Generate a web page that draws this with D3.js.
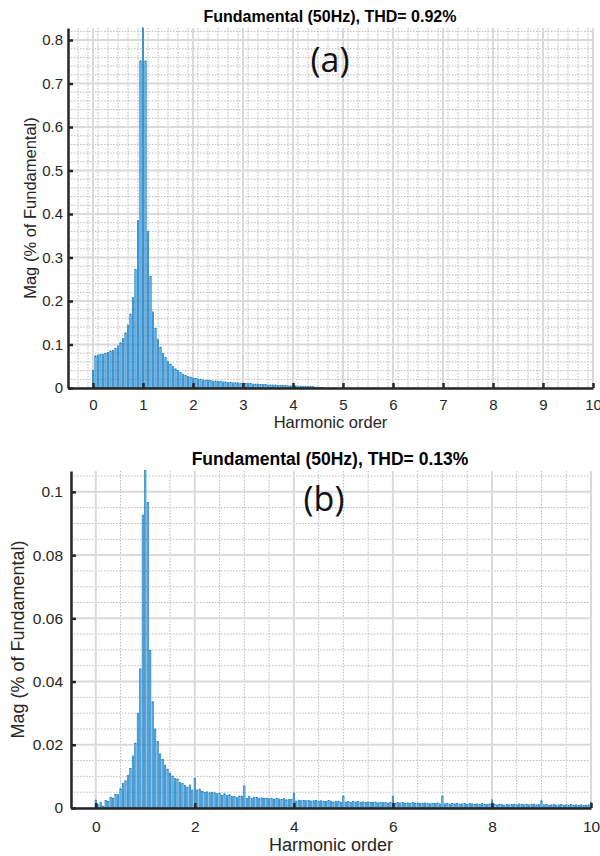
<!DOCTYPE html>
<html><head><meta charset="utf-8">
<script src="https://cdn.jsdelivr.net/npm/d3@7"></script>
<style>
body{margin:0;background:#fff}
svg{display:block}
text{font-family:"Liberation Sans",Arial,Helvetica,sans-serif;fill:#262626}
</style>
</head><body>
<svg id="c" width="600" height="856"></svg>
<script>
// ---------- DATA ----------
const harmonicStep = 0.05; // spectrum resolution in harmonic orders (2.5 Hz)

// Panel (a): Mag (% of Fundamental), one value per 0.05 harmonic order, 0 .. 10
const magA = [
  0.041,0.074,0.076,0.077,0.078,0.080,0.082,0.085,0.087,0.091,
  0.097,0.104,0.114,0.127,0.145,0.170,0.208,0.272,0.385,0.752,
  0.828,0.752,0.360,0.256,0.175,0.137,0.112,0.094,0.080,0.070,
  0.062,0.055,0.049,0.044,0.040,0.036,0.032,0.029,0.027,0.025,
  0.023,0.022,0.021,0.020,0.019,0.018,0.018,0.017,0.016,0.016,
  0.015,0.015,0.014,0.014,0.013,0.013,0.012,0.012,0.012,0.011,
  0.011,0.010,0.010,0.010,0.009,0.009,0.009,0.008,0.008,0.008,
  0.007,0.007,0.007,0.007,0.006,0.006,0.006,0.006,0.005,0.005,
  0.005,0.005,0.004,0.004,0.004,0.004,0.003,0.003,0.003,0.002,
  0.002,0.001,0.001,0,0,0,0,0,0,0,
  0,0,0,0,0,0,0,0,0,0,
  0,0,0,0,0,0,0,0,0,0,
  0,0,0,0,0,0,0,0,0,0,
  0,0,0,0,0,0,0,0,0,0,
  0,0,0,0,0,0,0,0,0,0,
  0,0,0,0,0,0,0,0,0,0,
  0,0,0,0,0,0,0,0,0,0,
  0,0,0,0,0,0,0,0,0,0,
  0,0,0,0,0,0,0,0,0,0,
  0,0,0,0,0,0,0,0,0,0,
  0
];

// Panel (b)
const magB = [
  0.0025,0.0010,0.0017,0.0006,0.0024,0.0020,0.0034,0.0031,0.0044,0.0042,
  0.0061,0.0078,0.0086,0.0104,0.0125,0.0165,0.0205,0.0300,0.0440,0.0927,
  0.1067,0.0967,0.0498,0.0336,0.0250,0.0210,0.0171,0.0154,0.0134,0.0123,
  0.0110,0.0101,0.0093,0.0092,0.0081,0.0078,0.0072,0.0066,0.0073,0.0057,
  0.0094,0.0057,0.0060,0.0052,0.0050,0.0051,0.0048,0.0049,0.0048,0.0045,
  0.0046,0.0040,0.0045,0.0039,0.0042,0.0036,0.0036,0.0033,0.0038,0.0038,
  0.0070,0.0030,0.0036,0.0031,0.0033,0.0034,0.0031,0.0032,0.0030,0.0031,
  0.0029,0.0031,0.0028,0.0030,0.0029,0.0027,0.0030,0.0026,0.0028,0.0027,
  0.0048,0.0022,0.0025,0.0023,0.0024,0.0023,0.0024,0.0022,0.0023,0.0024,
  0.0022,0.0023,0.0021,0.0020,0.0024,0.0022,0.0019,0.0020,0.0021,0.0019,
  0.0038,0.0019,0.0021,0.0018,0.0020,0.0019,0.0020,0.0018,0.0019,0.0017,
  0.0019,0.0018,0.0017,0.0019,0.0016,0.0018,0.0017,0.0018,0.0016,0.0017,
  0.0036,0.0015,0.0017,0.0016,0.0018,0.0015,0.0016,0.0015,0.0017,0.0014,
  0.0016,0.0015,0.0014,0.0016,0.0015,0.0013,0.0015,0.0014,0.0016,0.0013,
  0.0038,0.0013,0.0015,0.0012,0.0014,0.0013,0.0015,0.0012,0.0013,0.0014,
  0.0012,0.0014,0.0013,0.0011,0.0013,0.0012,0.0014,0.0012,0.0011,0.0013,
  0.0026,0.0012,0.0010,0.0012,0.0011,0.0009,0.0012,0.0010,0.0011,0.0012,
  0.0010,0.0013,0.0011,0.0010,0.0012,0.0010,0.0011,0.0012,0.0010,0.0011,
  0.0023,0.0010,0.0011,0.0009,0.0010,0.0011,0.0009,0.0010,0.0011,0.0009,
  0.0010,0.0008,0.0011,0.0009,0.0010,0.0009,0.0010,0.0008,0.0009,0.0010,
  0.0017
];

const titleA = "Fundamental (50Hz), THD= 0.92%";
const titleB = "Fundamental (50Hz), THD= 0.13%";
const xTicksA = [0,1,2,3,4,5,6,7,8,9,10];
const yTicksA = [0,0.1,0.2,0.3,0.4,0.5,0.6,0.7,0.8];
const xTicksB = [0,2,4,6,8,10];
const yTicksB = [0,0.02,0.04,0.06,0.08,0.1];
const xLabel = "Harmonic order";
const yLabel = "Mag (% of Fundamental)";

// ---------- DRAW ----------
const svg = d3.select("#c");

function panel(cfg) {
  const g = svg.append("g");
  const x = d3.scaleLinear().domain([-0.5, 10]).range([cfg.left, cfg.right]);
  const y = d3.scaleLinear().domain([0, cfg.ymax]).range([cfg.bottom, cfg.top]);
  const near = (a, b) => Math.abs(a - b) < 1e-6;

  // minor dotted grid
  const minorX = d3.range(-0.5 + cfg.xMinor, 10 + 1e-9, cfg.xMinor)
    .filter(v => !cfg.xTicks.some(t => near(t, v)));
  const minorY = d3.range(cfg.yMinor, cfg.ymax + 1e-9, cfg.yMinor)
    .filter(v => !cfg.yTicks.some(t => near(t, v)));
  g.append("g").selectAll("line").data(minorX).join("line")
    .attr("x1", d => x(d)).attr("x2", d => x(d))
    .attr("y1", cfg.top).attr("y2", cfg.bottom)
    .attr("stroke", "#bababa").attr("stroke-width", 1).attr("stroke-dasharray", "1.5,1.5");
  g.append("g").selectAll("line").data(minorY).join("line")
    .attr("x1", cfg.left).attr("x2", cfg.right)
    .attr("y1", d => y(d)).attr("y2", d => y(d))
    .attr("stroke", "#bababa").attr("stroke-width", 1).attr("stroke-dasharray", "1.5,1.5");

  // major grid
  g.append("g").selectAll("line").data(cfg.xTicks).join("line")
    .attr("x1", d => x(d)).attr("x2", d => x(d))
    .attr("y1", cfg.top).attr("y2", cfg.bottom)
    .attr("stroke", "#dadada").attr("stroke-width", 2);
  g.append("g").selectAll("line").data(cfg.yTicks).join("line")
    .attr("x1", cfg.left).attr("x2", cfg.right)
    .attr("y1", d => y(d)).attr("y2", d => y(d))
    .attr("stroke", "#dadada").attr("stroke-width", 2);

  // bars
  const bw = (x(harmonicStep) - x(0)) * 0.55;
  g.append("g").selectAll("rect").data(cfg.values.map((v, i) => ({o: i * harmonicStep, v})))
    .join("rect")
    .filter(d => d.v > 0)
    .attr("x", d => x(d.o) - bw / 2)
    .attr("width", bw)
    .attr("y", d => y(d.v))
    .attr("height", d => y(0) - y(d.v))
    .attr("fill", "#80bde9")
    .attr("stroke", "#0072BD")
    .attr("stroke-width", 0.6);

  // axes
  const ax = g.append("g").attr("transform", `translate(0,${cfg.bottom})`)
    .call(d3.axisBottom(x).tickValues(cfg.xTicks).tickFormat(d3.format("d"))
      .tickSizeInner(-5).tickSizeOuter(0).tickPadding(cfg.xPad));
  const ay = g.append("g").attr("transform", `translate(${cfg.left},0)`)
    .call(d3.axisLeft(y).tickValues(cfg.yTicks).tickFormat(d => d === 0 ? "0" : d3.format("~g")(d))
      .tickSizeInner(-5).tickSizeOuter(0).tickPadding(cfg.yPad));
  [ax, ay].forEach(a => {
    a.select(".domain").attr("stroke", "#262626").attr("stroke-width", 2.5);
    a.selectAll(".tick line").attr("stroke", "#262626").attr("stroke-width", 2.5);
    a.selectAll(".tick text").attr("fill", "#262626").style("font-size", cfg.tickFont + "px")
      .style("font-family", '"Liberation Sans",Arial,sans-serif');
  });

  // titles and labels
  g.append("text").attr("x", cfg.titleX).attr("y", cfg.titleY).attr("text-anchor", "middle")
    .style("font-weight", "bold").style("font-size", cfg.titleFont + "px").style("fill", "#000")
    .text(cfg.title);
  g.append("text").attr("x", cfg.tagX).attr("y", cfg.tagY).attr("text-anchor", "middle")
    .style("font-family", '"Open Sans",sans-serif').style("font-size", "34px").style("fill", "#111")
    .text(cfg.tag);
  g.append("text").attr("x", (cfg.left + cfg.right) / 2 + cfg.xLabelShift).attr("y", cfg.xLabelY)
    .attr("text-anchor", "middle").style("font-size", cfg.labelFont + "px").text(xLabel);
  g.append("text").attr("transform", `translate(${cfg.yLabelX},${(cfg.top + cfg.bottom) / 2}) rotate(-90)`)
    .attr("text-anchor", "middle").style("font-size", cfg.labelFont + "px").text(yLabel);
}

panel({
  values: magA, left: 68, right: 593, top: 28, bottom: 388, ymax: 0.8276,
  xTicks: xTicksA, yTicks: yTicksA, xMinor: 0.2, yMinor: 0.02,
  xPad: 11.5, yPad: 5, tickFont: 15, title: titleA, titleX: 330, titleY: 22, titleFont: 16,
  tag: "(a)", tagX: 330, tagY: 72, xLabelY: 428, xLabelShift: 0, yLabelX: 36, labelFont: 16.5
});
panel({
  values: magB, left: 71, right: 591, top: 471, bottom: 808, ymax: 0.1066,
  xTicks: xTicksB, yTicks: yTicksB, xMinor: 0.5, yMinor: 0.005,
  xPad: 13, yPad: 8, tickFont: 15.5, title: titleB, titleX: 330, titleY: 465, titleFont: 17.5,
  tag: "(b)", tagX: 324, tagY: 511, xLabelY: 851, xLabelShift: 0, yLabelX: 24, labelFont: 18
});
</script>
</body></html>
